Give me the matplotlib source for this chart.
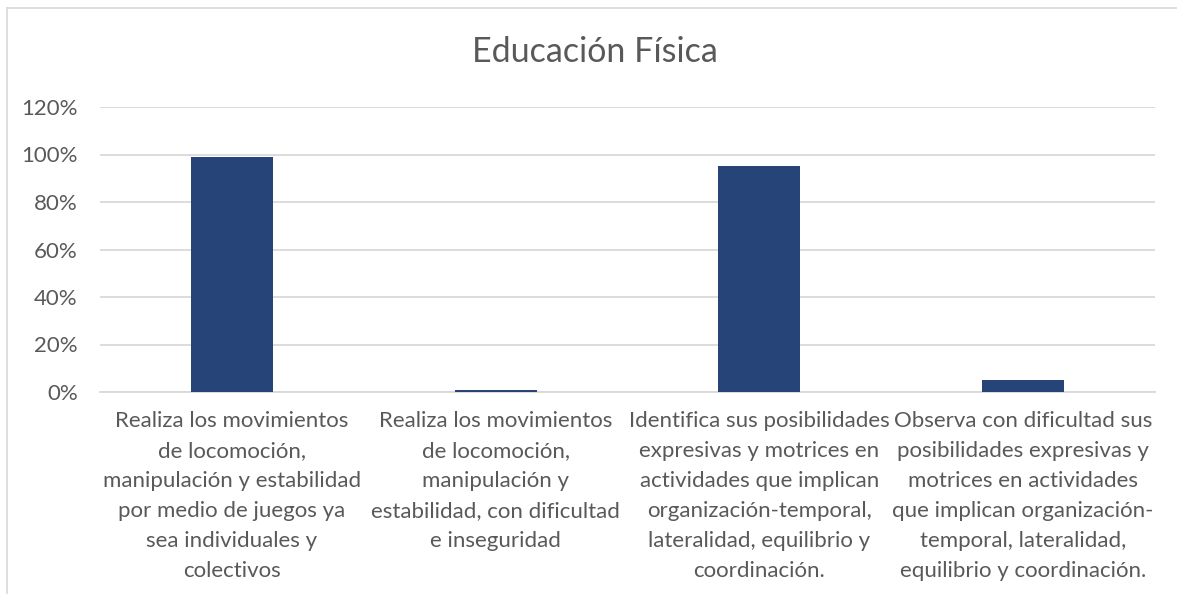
import matplotlib
matplotlib.use("Agg")
import matplotlib.pyplot as plt
from matplotlib.lines import Line2D

title = "Educación Física"
categories = [
    "Realiza los movimientos\nde locomoción,\nmanipulación y estabilidad\npor medio de juegos ya\nsea individuales y\ncolectivos",
    "Realiza los movimientos\nde locomoción,\nmanipulación y\nestabilidad, con dificultad\ne inseguridad",
    "Identifica sus posibilidades\nexpresivas y motrices en\nactividades que implican\norganización-temporal,\nlateralidad, equilibrio y\ncoordinación.",
    "Observa con dificultad sus\nposibilidades expresivas y\nmotrices en actividades\nque implican organización-\ntemporal, lateralidad,\nequilibrio y coordinación.",
]
values = [0.99, 0.01, 0.95, 0.05]
yticks = [0, 0.2, 0.4, 0.6, 0.8, 1.0, 1.2]
ytick_labels = ["0%", "20%", "40%", "60%", "80%", "100%", "120%"]

plt.rcParams['font.family'] = ['Lato', 'DejaVu Sans']
text_color = "#595959"
grid_color = "#d9d9d9"
bar_color = "#264478"

fig = plt.figure(figsize=(11.77, 5.94), dpi=100)
ax = fig.add_axes([100/1177, 1-392/594, 1055/1177, 285/594])

x = list(range(len(values)))
ax.bar(x, values, width=0.31, color=bar_color, zorder=3)
ax.set_xlim(-0.5, len(values)-0.5)
ax.set_ylim(0, 1.2)
ax.set_yticks(yticks)
ax.set_yticklabels(ytick_labels, color=text_color, fontsize=16)
ax.set_xticks(x)
ax.set_xticklabels(categories, color=text_color, fontsize=16, linespacing=1.62, va='top')
ax.tick_params(axis='x', length=0, pad=14)
ax.tick_params(axis='y', length=0, pad=16)
ax.grid(axis='y', color=grid_color, linewidth=1.3, zorder=0)
for s in ['top', 'right', 'left']:
    ax.spines[s].set_visible(False)
ax.spines['bottom'].set_color(grid_color)
ax.spines['bottom'].set_linewidth(1.3)

fig.text(595/1177, 1-52/594, title, ha='center', va='center', fontsize=24.5, color=text_color)

# chart frame (left and top visible)
fig.add_artist(Line2D([7/1177, 7/1177], [0, 1-8/594], transform=fig.transFigure, color=grid_color, linewidth=1.2))
fig.add_artist(Line2D([7/1177, 1], [1-8/594, 1-8/594], transform=fig.transFigure, color=grid_color, linewidth=1.2))

fig.savefig("out.png", dpi=100, facecolor="white")
